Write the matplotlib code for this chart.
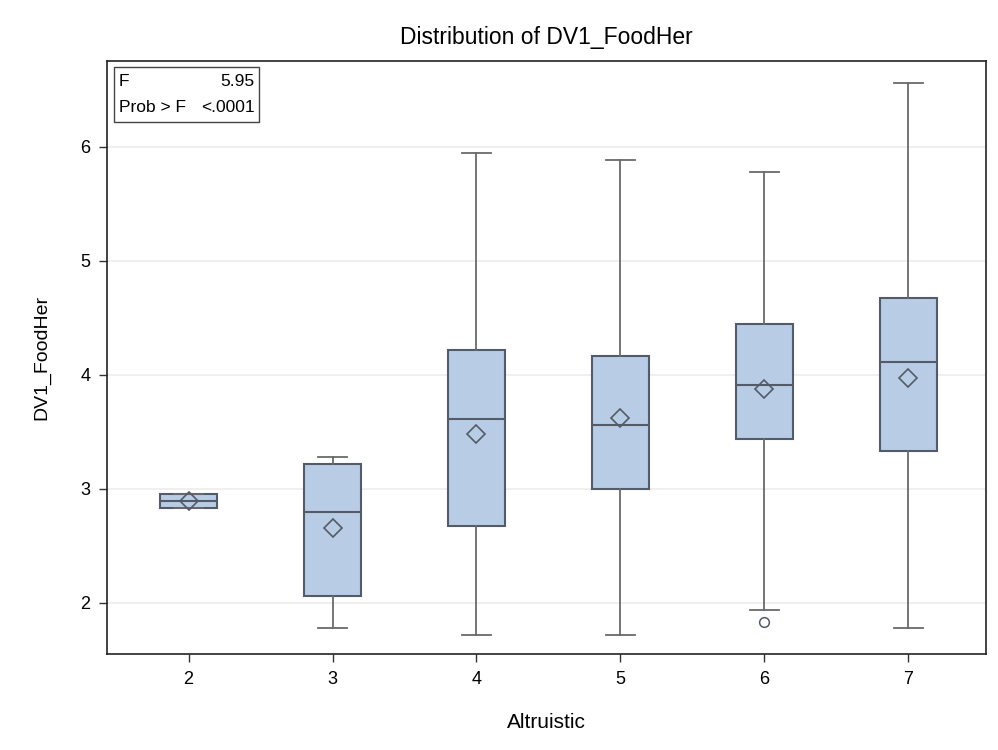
import matplotlib
matplotlib.use("Agg")
import matplotlib.pyplot as plt
from matplotlib.patches import Rectangle

plt.rcParams['font.family'] = ['Liberation Sans', 'DejaVu Sans']

# box plot summary per Altruistic level
groups = [2, 3, 4, 5, 6, 7]
q1 = [2.83, 2.06, 2.67, 3.00, 3.44, 3.33]
medians = [2.89, 2.80, 3.61, 3.56, 3.91, 4.11]
q3 = [2.95, 3.22, 4.22, 4.16, 4.44, 4.67]
whisk_lo = [2.83, 1.78, 1.72, 1.72, 1.94, 1.78]
whisk_hi = [2.95, 3.28, 5.94, 5.88, 5.78, 6.56]
means = [2.89, 2.66, 3.48, 3.62, 3.87, 3.97]
outliers = [[], [], [], [], [1.83], []]

f_value = "5.95"
p_value = "<.0001"

stats = []
for i, g in enumerate(groups):
    stats.append({
        'label': str(g),
        'q1': q1[i], 'med': medians[i], 'q3': q3[i],
        'whislo': whisk_lo[i], 'whishi': whisk_hi[i],
        'mean': means[i], 'fliers': outliers[i],
    })

fig = plt.figure(figsize=(9.98, 7.5), dpi=100)
ax = fig.add_axes([0.1075, 0.128, 0.8805, 0.7907])

box_edge = '#535B68'
whisk_col = '#6A6A6A'
ax.bxp(stats, positions=groups, widths=0.4, capwidths=0.2,
       showmeans=True, patch_artist=True,
       boxprops=dict(facecolor='#B8CDE5', edgecolor=box_edge, linewidth=1.5),
       medianprops=dict(color=box_edge, linewidth=1.5),
       whiskerprops=dict(color=whisk_col, linewidth=1.3),
       capprops=dict(color=whisk_col, linewidth=1.3),
       meanprops=dict(marker='D', markersize=9, markerfacecolor='none',
                      markeredgecolor=box_edge, markeredgewidth=1.2),
       flierprops=dict(marker='o', markersize=7, markerfacecolor='none',
                       markeredgecolor=box_edge, markeredgewidth=1.1))

ax.set_xlim(1.435, 7.54)
ax.set_ylim(1.551, 6.75)
ax.set_xticks(groups)
ax.set_xticklabels([str(g) for g in groups])
ax.set_yticks([2, 3, 4, 5, 6])
ax.grid(axis='y', color='#ECECEC', linewidth=1.2)
ax.set_axisbelow(True)
ax.tick_params(direction='out', length=6, width=1, colors='#333333',
               labelcolor='black', labelsize=13, pad=6)
for s in ax.spines.values():
    s.set_color('#222222')
    s.set_linewidth(1.2)

ax.set_xlabel('Altruistic', fontsize=15, labelpad=18)
ax.set_ylabel('DV1_FoodHer', fontsize=14, labelpad=22)
ax.set_title('Distribution of DV1_FoodHer', fontsize=16.5, pad=12)

# F test inset
ax.add_patch(Rectangle((0.008, 0.897), 0.165, 0.093, transform=ax.transAxes,
                       facecolor='white', edgecolor='#444444', linewidth=1.0,
                       zorder=5))
ax.text(0.013, 0.966, 'F', transform=ax.transAxes, fontsize=12.5,
        va='center', ha='left', zorder=6)
ax.text(0.168, 0.966, f_value, transform=ax.transAxes, fontsize=12.5,
        va='center', ha='right', zorder=6)
ax.text(0.013, 0.922, 'Prob > F', transform=ax.transAxes, fontsize=12.5,
        va='center', ha='left', zorder=6)
ax.text(0.168, 0.922, p_value, transform=ax.transAxes, fontsize=12.5,
        va='center', ha='right', zorder=6)

fig.savefig('out.png', dpi=100)
